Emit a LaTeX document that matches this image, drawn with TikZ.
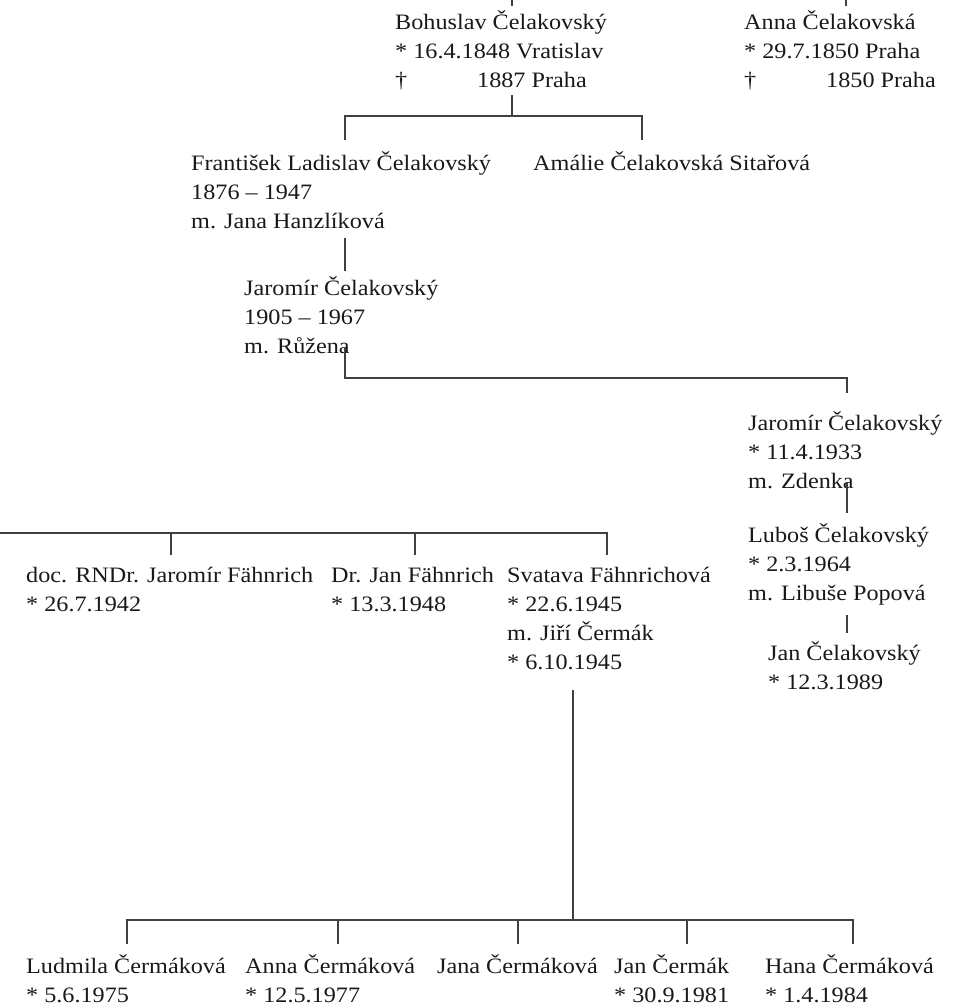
\documentclass[tikz,border=0pt]{standalone}
\usepackage{fontspec}
\setmainfont[FakeStretch=1.1]{Liberation Serif}
\usetikzlibrary{positioning}

\tikzset{
  person/.style={anchor=north west, inner sep=0pt, align=left, text=black!90,
    font=\fontsize{22}{29}\selectfont},
  link/.style={draw=black!75, line width=1.1pt}
}
\newcommand{\topline}{\rule{0pt}{24pt}}
\newcommand{\born}[1]{*\ #1}
\newcommand{\died}[1]{\makebox[82pt][l]{†}#1}

\begin{document}
\begin{tikzpicture}[x=1pt, y=-1pt]
\useasboundingbox (0,0) rectangle (957,1008);

% oldest generation
\node[person] (bohus) at (395,5) {\topline Bohuslav Čelakovský\\ \born{16.4.1848 Vratislav}\\ \died{1887 Praha}};
\node[person] (anna1) at (744,5) {\topline Anna Čelakovská\\ \born{29.7.1850 Praha}\\ \died{1850 Praha}};

\node[person] (frant) at (191,146) {\topline František Ladislav Čelakovský\\ 1876 – 1947\\ m. Jana Hanzlíková};
\node[person] (amal) at (533,146) {\topline Amálie Čelakovská Sitařová};

\node[person] (jar1) at (244,271) {\topline Jaromír Čelakovský\\ 1905 – 1967\\ m. Růžena};

% right branch
\node[person] (jar2) at (748,406) {\topline Jaromír Čelakovský\\ \born{11.4.1933}\\ m. Zdenka};
\node[person] (lubos) at (748,518) {\topline Luboš Čelakovský\\ \born{2.3.1964}\\ m. Libuše Popová};
\node[person] (jan1) at (768,636) {\topline Jan Čelakovský\\ \born{12.3.1989}};

% Fähnrich
\node[person] (doc) at (26,558) {\topline doc. RNDr. Jaromír Fähnrich\\ \born{26.7.1942}};
\node[person] (drjan) at (331,558) {\topline Dr. Jan Fähnrich\\ \born{13.3.1948}};
\node[person] (svat) at (507,558) {\topline Svatava Fähnrichová\\ \born{22.6.1945}\\ m. Jiří Čermák\\ \born{6.10.1945}};

% Čermák children
\node[person] (ludm) at (26,949) {\topline Ludmila Čermáková\\ \born{5.6.1975}};
\node[person] (anna2) at (245,949) {\topline Anna Čermáková\\ \born{12.5.1977}};
\node[person] (jana) at (437,949) {\topline Jana Čermáková};
\node[person] (jan2) at (614,949) {\topline Jan Čermák\\ \born{30.9.1981}};
\node[person] (hana) at (765,949) {\topline Hana Čermáková\\ \born{1.4.1984}};

% connector points
\coordinate (bohusTop) at (512,6);
\coordinate (anna1Top) at (846,6);
\coordinate (bohusBot) at (512,95);
\coordinate (frantTop) at (345,140);
\coordinate (amalTop) at (642,140);
\coordinate (frantBot) at (345,238);
\coordinate (jar1Top) at (345,271);
\coordinate (jar1Bot) at (345,347);
\coordinate (jar2Top) at (847,393);
\coordinate (jar2Bot) at (847,482);
\coordinate (lubosTop) at (847,513);
\coordinate (lubosBot) at (847,615);
\coordinate (jan1Top) at (847,633);
\coordinate (fahnLeft) at (0,533);
\coordinate (docTop) at (171,555);
\coordinate (drjanTop) at (415,555);
\coordinate (svatTop) at (607,555);
\coordinate (svatBot) at (573,690);
\coordinate (fork) at (573,920);
\foreach \n/\x in {ludm/127, anna2/338, jana/518, jan2/687, hana/853}
  \coordinate (\n Top) at (\x,944);

% connectors
\draw[link] (bohusTop) -- ++(0,-6);
\draw[link] (anna1Top) -- ++(0,-6);
\draw[link] (bohusBot) -- ++(0,21);
\draw[link] (frantTop) -- ++(0,-24) -| (amalTop);
\draw[link] (frantBot) -- (jar1Top);
\draw[link] (jar1Bot) -- ++(0,31) -| (jar2Top);
\draw[link] (jar2Bot) -- (lubosTop);
\draw[link] (lubosBot) -- (jan1Top);
\draw[link] (fahnLeft) -| (svatTop);
\draw[link] (docTop) -- ++(0,-22);
\draw[link] (drjanTop) -- ++(0,-22);
\draw[link] (svatBot) -- (fork);
\draw[link] (ludmTop) -- ++(0,-24) -| (hanaTop);
\foreach \n in {anna2, jana, jan2}
  \draw[link] (\n Top) -- ++(0,-24);
\end{tikzpicture}
\end{document}
